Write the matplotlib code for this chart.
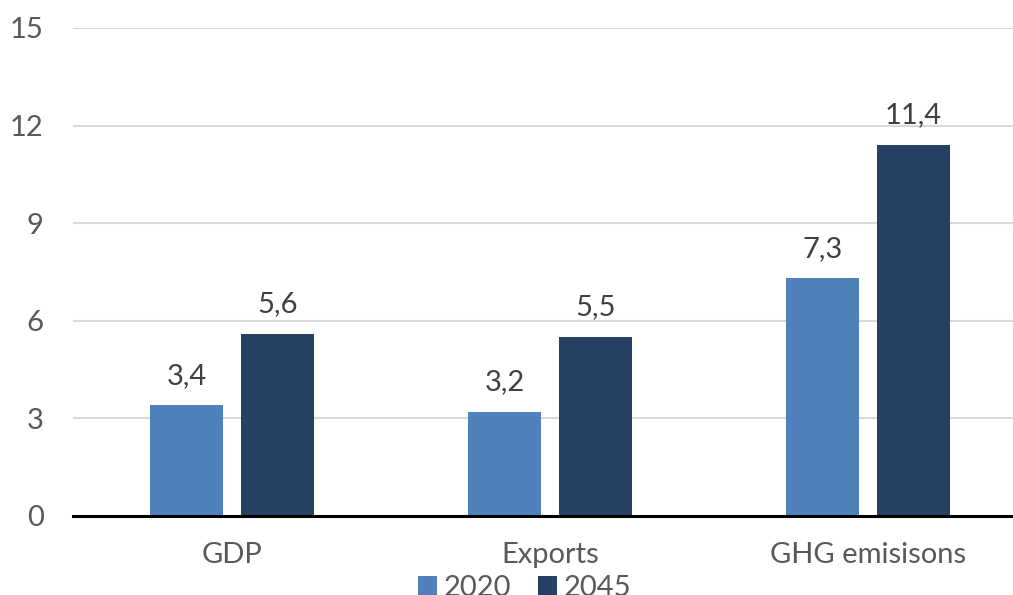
import numpy as np
import matplotlib
matplotlib.use('Agg')
import matplotlib.pyplot as plt

plt.rcParams['font.family'] = ['Lato', 'DejaVu Sans']

categories = ['GDP', 'Exports', 'GHG emisisons']
years = ['2020', '2045']
values_2020 = [3.4, 3.2, 7.3]
values_2045 = [5.6, 5.5, 11.4]
yticks = [0, 3, 6, 9, 12, 15]

colors = ['#4F81BD', '#254061']

fig = plt.figure(figsize=(10.13, 5.95), dpi=100)
ax = fig.add_axes([0.0721, 0.1328, 0.9418, 0.8202])

x = np.arange(len(categories))
w = 0.23
off = 0.142
bars = []
for vals, sign, col, lab in [(values_2020, -1, colors[0], years[0]),
                             (values_2045, 1, colors[1], years[1])]:
    b = ax.bar(x + sign * off, vals, width=w, color=col, label=lab, zorder=3)
    bars.append(b)
    for xi, v in zip(x + sign * off, vals):
        ax.annotate(f'{v:.1f}'.replace('.', ','), (xi, v), xytext=(0, 12),
                    textcoords='offset points', ha='center', va='bottom',
                    fontsize=21, color='#404040')

ax.set_xlim(-0.5, 2.5)
ax.set_ylim(0, 15)
ax.set_yticks(yticks)
ax.set_yticklabels([str(t) for t in yticks])
ax.set_xticks(x)
ax.set_xticklabels(categories)
ax.tick_params(axis='y', length=0, pad=21, labelsize=21, labelcolor='#595959')
ax.tick_params(axis='x', length=0, pad=19, labelsize=21, labelcolor='#595959')
ax.yaxis.grid(True, color='#D9D9D9', linewidth=1.5, zorder=0)
ax.set_axisbelow(True)
for s in ['top', 'right', 'left']:
    ax.spines[s].set_visible(False)
ax.spines['bottom'].set_linewidth(2.2)
ax.spines['bottom'].set_color('black')
ax.spines['bottom'].set_zorder(4)

fig.legend(handles=bars, labels=years, loc='center', bbox_to_anchor=(0.518, 0.012),
           ncol=2, frameon=False, fontsize=21, labelcolor='#595959',
           handlelength=0.65, handleheight=0.65, handletextpad=0.25,
           columnspacing=0.9)

fig.savefig('out.png', dpi=100)
